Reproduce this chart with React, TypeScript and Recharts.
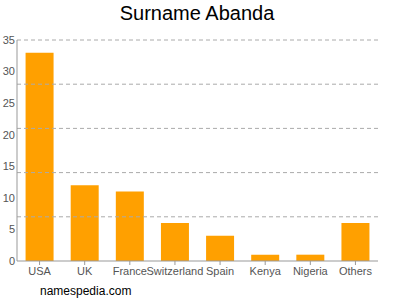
import { BarChart, Bar, XAxis, YAxis, ReferenceLine } from 'recharts'

const countries = ['USA', 'UK', 'France', 'Switzerland', 'Spain', 'Kenya', 'Nigeria', 'Others']
const counts = [33, 12, 11, 6, 4, 1, 1, 6]
const yTicks = [0, 5, 10, 15, 20, 25, 30, 35]
const gridValues = [7, 14, 21, 28, 35]

const data = countries.map((name, i) => ({ name, count: counts[i] }))

const font = '"Liberation Sans", Arial, sans-serif'

export default function App() {
  return (
    <div style={{ position: 'absolute', left: 0, top: 0, width: 400, height: 300, background: '#fff', fontFamily: font }}>
      <div style={{ position: 'absolute', top: 2, width: 394, textAlign: 'center', fontSize: 20, color: '#000' }}>
        Surname Abanda
      </div>
      <BarChart
        width={400}
        height={300}
        data={data}
        margin={{ top: 40, right: 22, bottom: 19, left: 0 }}
        barCategoryGap="19%"
      >
        {gridValues.map((v) => (
          <ReferenceLine key={v} y={v} stroke="#aaa" strokeDasharray="4 3" ifOverflow="extendDomain" />
        ))}
        <XAxis
          dataKey="name"
          interval={0}
          height={20}
          tick={{ fontSize: 11, fill: '#555', fontFamily: font }}
          tickSize={4}
          tickMargin={2}
          stroke="#999"
        />
        <YAxis
          domain={[0, 35]}
          ticks={yTicks}
          width={17}
          tick={{ fontSize: 11, fill: '#555', fontFamily: font }}
          tickLine={false}
          tickSize={0}
          tickMargin={2}
          stroke="#999"
        />
        <Bar dataKey="count" fill="#ffa000" isAnimationActive={false} />
      </BarChart>
      <div style={{ position: 'absolute', left: 40, top: 284, fontSize: 12, color: '#000' }}>namespedia.com</div>
    </div>
  )
}
